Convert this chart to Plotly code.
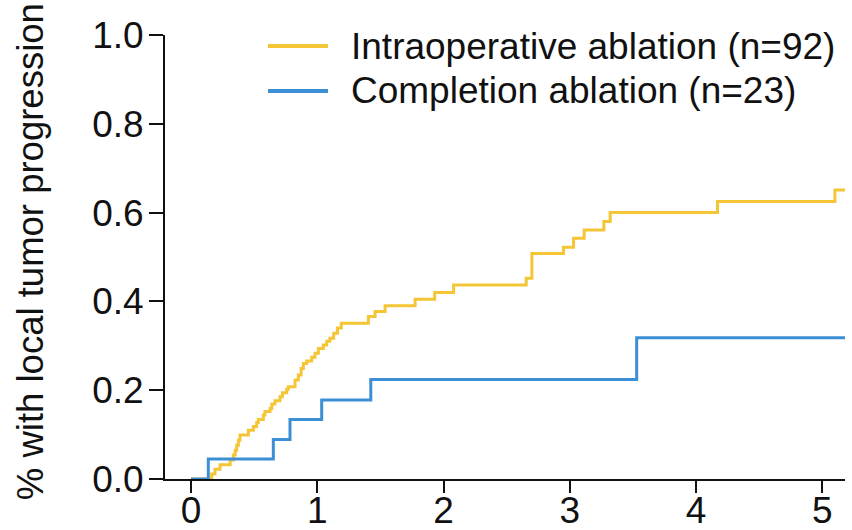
import plotly.graph_objects as go

# ---- data ----
years_intra = [0.0, 0.164, 0.19, 0.23, 0.31, 0.335, 0.35, 0.362, 0.375, 0.388,
               0.454, 0.494, 0.52, 0.533, 0.573, 0.586, 0.626, 0.64, 0.665, 0.705,
               0.724, 0.758, 0.771, 0.824, 0.85, 0.872, 0.89, 0.916, 0.956, 0.982,
               1.009, 1.048, 1.075, 1.10, 1.13, 1.16, 1.19, 1.405, 1.458, 1.537,
               1.775, 1.93, 2.08, 2.655, 2.70, 2.95, 3.03, 3.114, 3.27, 3.32,
               4.17, 5.10, 5.18]
prog_intra = [0.0, 0.011, 0.022, 0.032, 0.043, 0.054, 0.065, 0.076, 0.087, 0.099,
              0.11, 0.118, 0.127, 0.134, 0.144, 0.152, 0.159, 0.169, 0.176, 0.185,
              0.194, 0.202, 0.208, 0.223, 0.234, 0.249, 0.26, 0.266, 0.274, 0.283,
              0.294, 0.302, 0.31, 0.317, 0.328, 0.34, 0.351, 0.366, 0.377, 0.39,
              0.405, 0.42, 0.437, 0.452, 0.508, 0.522, 0.542, 0.561, 0.58, 0.60,
              0.625, 0.651, 0.651]

years_compl = [0.0, 0.137, 0.652, 0.784, 1.035, 1.424, 3.53, 5.18]
prog_compl = [0.0, 0.045, 0.089, 0.134, 0.178, 0.224, 0.318, 0.318]

series_names = ["Intraoperative ablation (n=92)", "Completion ablation (n=23)"]
x_ticks = [0, 1, 2, 3, 4, 5]
y_ticks = [0.0, 0.2, 0.4, 0.6, 0.8, 1.0]
y_title = "% with local tumor progression"

YELLOW = "#F4C535"
BLUE = "#3D8FD5"
FONT = "Liberation Sans, Arial, sans-serif"
INK = "#111111"

fig = go.Figure()
fig.add_trace(go.Scatter(x=years_intra, y=prog_intra, mode="lines", line_shape="hv",
                         line=dict(color=YELLOW, width=3), name=series_names[0],
                         showlegend=False))
fig.add_trace(go.Scatter(x=years_compl, y=prog_compl, mode="lines", line_shape="hv",
                         line=dict(color=BLUE, width=3), name=series_names[1],
                         showlegend=False))

# manual legend (longer line samples like the reference)
legend_rows = [(series_names[0], YELLOW, 0.975), (series_names[1], BLUE, 0.874)]
for name, color, yy in legend_rows:
    fig.add_shape(type="line", xref="paper", yref="paper", x0=0.1515, x1=0.2397,
                  y0=yy, y1=yy, line=dict(color=color, width=4))
    fig.add_annotation(xref="paper", yref="paper", x=0.2706, y=yy, text=name,
                       showarrow=False, xanchor="left", yanchor="middle",
                       font=dict(family=FONT, size=37, color=INK))

# y-axis title as rotated text
fig.add_annotation(xref="paper", yref="paper", x=-0.1985, y=0.511, text=y_title,
                   textangle=-90, showarrow=False, xanchor="center", yanchor="middle",
                   font=dict(family=FONT, size=36.5, color=INK))

fig.update_layout(
    width=852, height=530,
    margin=dict(l=165, r=7, t=35, b=51, autoexpand=False),
    paper_bgcolor="white", plot_bgcolor="white",
    font=dict(family=FONT, size=37, color=INK),
    showlegend=False,
)
fig.update_xaxes(range=[-0.206, 5.18], tickmode="array", tickvals=x_ticks,
                 ticktext=[str(t) for t in x_ticks], automargin=False,
                 showline=True, linewidth=2, linecolor=INK,
                 ticks="outside", ticklen=12, tickwidth=2, tickcolor=INK,
                 ticklabelstandoff=-14,
                 showgrid=False, zeroline=False,
                 tickfont=dict(family=FONT, size=37, color=INK))
fig.update_yaxes(range=[0, 1.0], tickmode="array", tickvals=y_ticks,
                 ticktext=[f"{t:.1f}" for t in y_ticks], automargin=False,
                 showline=True, linewidth=2, linecolor=INK,
                 ticks="outside", ticklen=14, tickwidth=2, tickcolor=INK,
                 ticklabelstandoff=-2,
                 showgrid=False, zeroline=False,
                 tickfont=dict(family=FONT, size=37, color=INK))

fig.write_html("out.html")
